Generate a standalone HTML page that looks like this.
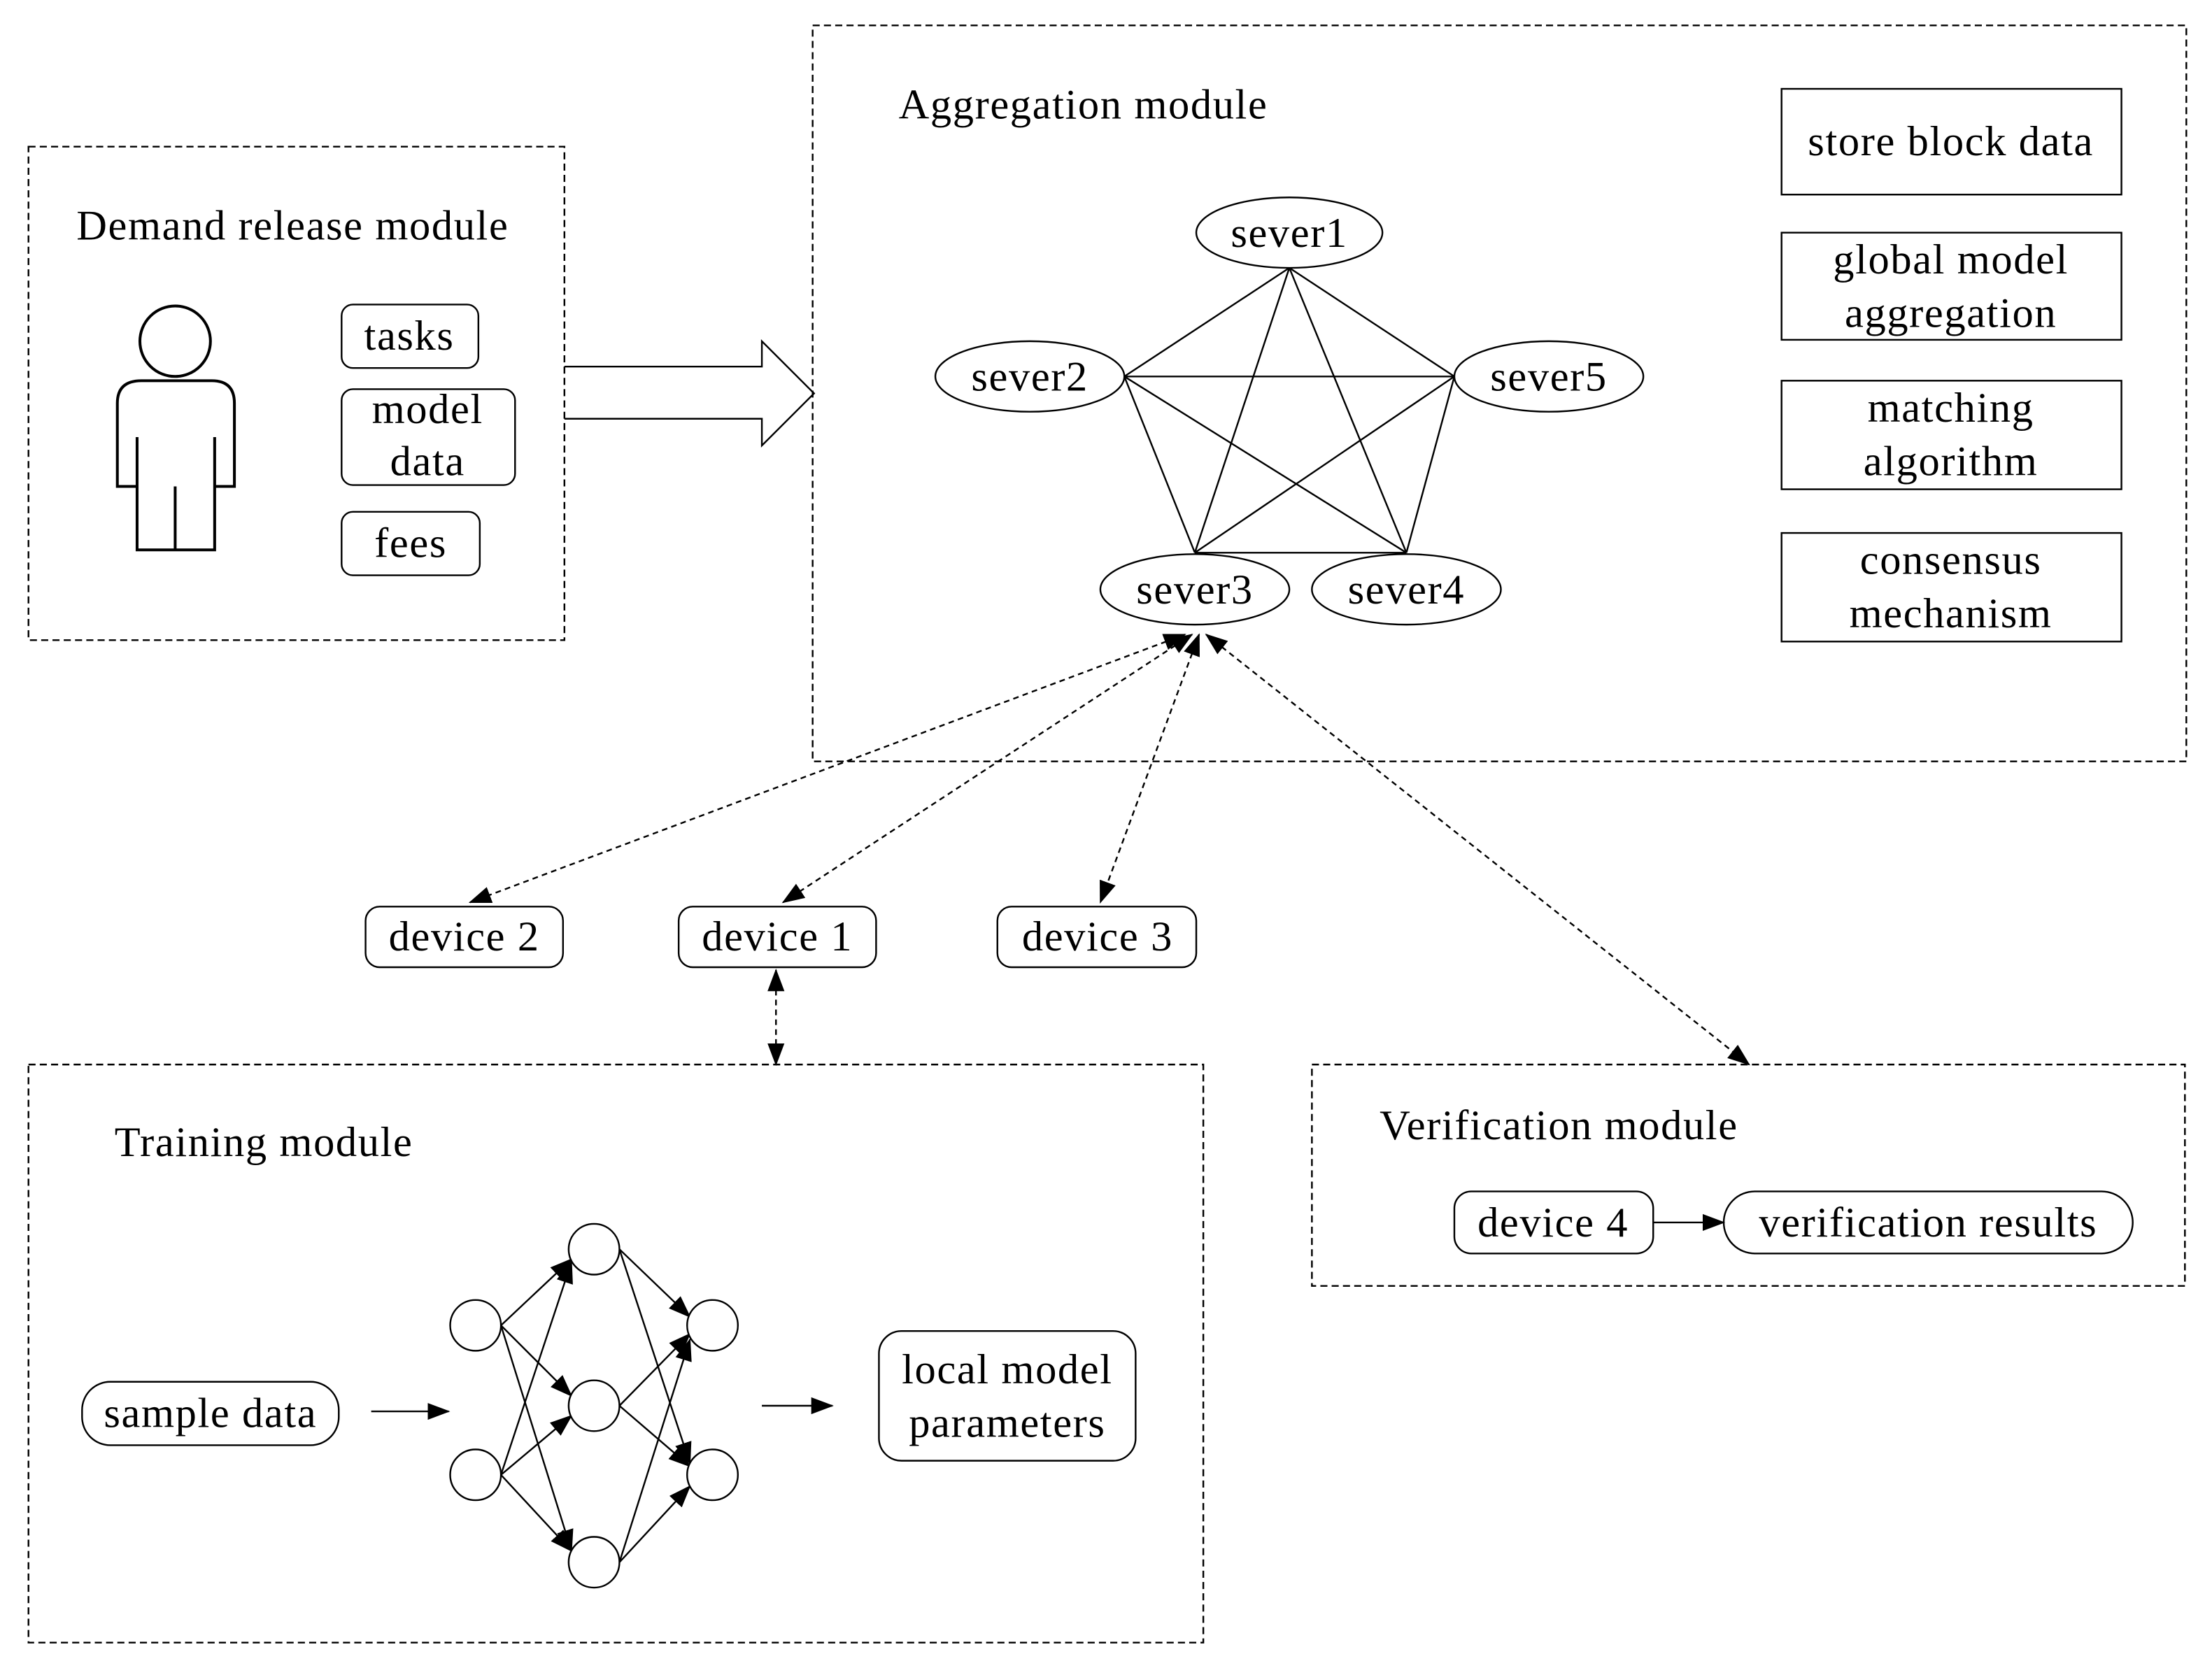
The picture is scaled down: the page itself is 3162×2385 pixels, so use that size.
<!DOCTYPE html>
<html><head><meta charset="utf-8">
<style>
html,body{margin:0;padding:0;background:#fff;}
svg{display:block;}
text{font-family:"Liberation Serif",serif;font-size:30px;letter-spacing:0.8px;fill:#000;}
</style></head>
<body>
<svg width="3162" height="2385" viewBox="0 0 1568 1183" xmlns="http://www.w3.org/2000/svg">
<defs>
<marker id="ah2" markerWidth="16" markerHeight="12" refX="15" refY="6" orient="auto-start-reverse" markerUnits="userSpaceOnUse">
<path d="M0,0 L16,6 L0,12 Z" fill="#000"/>
</marker>
</defs>
<g fill="none" stroke="#000" stroke-width="1.2">
<rect x="20" y="104" width="380" height="350" stroke-dasharray="5,3"/>
<rect x="576" y="18" width="974" height="522" stroke-dasharray="5,3"/>
<rect x="20" y="755" width="833" height="410" stroke-dasharray="5,3"/>
<rect x="930" y="755" width="619" height="157" stroke-dasharray="5,3"/>
<circle cx="124" cy="242" r="25" stroke-width="2"/>
<path d="M100,270 H150 Q166,270 166,286 V345 H152 V390 H97 V345 H83 V286 Q83,270 100,270 Z M97,310 V345 M152,310 V345 M124,345 V390" stroke-width="2"/>
<rect x="242" y="216" width="97" height="45" rx="8"/>
<rect x="242" y="276" width="123" height="68" rx="8"/>
<rect x="242" y="363" width="98" height="45" rx="8"/>
<path d="M400,260 H540 V242 L577,279 L540,316 V297 H400"/>
<rect x="1263" y="63" width="241" height="75"/>
<rect x="1263" y="165" width="241" height="76"/>
<rect x="1263" y="270" width="241" height="77"/>
<rect x="1263" y="378" width="241" height="77"/>
<path d="M914,190 L797,267 M914,190 L1031,267 M914,190 L847,392 M914,190 L997,392 M797,267 L1031,267 M797,267 L847,392 M797,267 L997,392 M1031,267 L847,392 M1031,267 L997,392 M847,392 L997,392"/>
<ellipse cx="914" cy="165" rx="66" ry="25" fill="#fff"/>
<ellipse cx="730" cy="267" rx="67" ry="25" fill="#fff"/>
<ellipse cx="1098" cy="267" rx="67" ry="25" fill="#fff"/>
<ellipse cx="847" cy="418" rx="67" ry="25" fill="#fff"/>
<ellipse cx="997" cy="418" rx="67" ry="25" fill="#fff"/>
<g stroke-dasharray="4,3">
<line x1="840" y1="450" x2="333" y2="640" marker-start="url(#ah2)" marker-end="url(#ah2)"/>
<line x1="845" y1="450" x2="555" y2="640" marker-start="url(#ah2)" marker-end="url(#ah2)"/>
<line x1="850" y1="450" x2="780" y2="640" marker-start="url(#ah2)" marker-end="url(#ah2)"/>
<line x1="855" y1="450" x2="1240" y2="755" marker-start="url(#ah2)" marker-end="url(#ah2)"/>
<line x1="550" y1="688" x2="550" y2="755" marker-start="url(#ah2)" marker-end="url(#ah2)"/>
</g>
<rect x="259" y="643" width="140" height="43" rx="10"/>
<rect x="481" y="643" width="140" height="43" rx="10"/>
<rect x="707" y="643" width="141" height="43" rx="10"/>
<rect x="58" y="980" width="182" height="45" rx="20"/>
<line x1="263" y1="1001" x2="318" y2="1001" marker-end="url(#ah2)"/>
<line x1="540" y1="997" x2="590" y2="997" marker-end="url(#ah2)"/>
<rect x="623" y="944" width="182" height="92" rx="16"/>
<g>
<line x1="355" y1="940" x2="405" y2="893" marker-end="url(#ah2)"/>
<line x1="355" y1="940" x2="405" y2="990" marker-end="url(#ah2)"/>
<line x1="355" y1="940" x2="405" y2="1100" marker-end="url(#ah2)"/>
<line x1="355" y1="1046" x2="405" y2="895" marker-end="url(#ah2)"/>
<line x1="355" y1="1046" x2="405" y2="1004" marker-end="url(#ah2)"/>
<line x1="355" y1="1046" x2="405" y2="1100" marker-end="url(#ah2)"/>
<line x1="439" y1="886" x2="489" y2="934" marker-end="url(#ah2)"/>
<line x1="439" y1="886" x2="489" y2="1038" marker-end="url(#ah2)"/>
<line x1="439" y1="997" x2="489" y2="946" marker-end="url(#ah2)"/>
<line x1="439" y1="997" x2="489" y2="1040" marker-end="url(#ah2)"/>
<line x1="439" y1="1108" x2="489" y2="950" marker-end="url(#ah2)"/>
<line x1="439" y1="1108" x2="489" y2="1054" marker-end="url(#ah2)"/>
</g>
<g fill="#fff">
<circle cx="337" cy="940" r="18"/><circle cx="337" cy="1046" r="18"/>
<circle cx="421" cy="886" r="18"/><circle cx="421" cy="997" r="18"/><circle cx="421" cy="1108" r="18"/>
<circle cx="505" cy="940" r="18"/><circle cx="505" cy="1046" r="18"/>
</g>
<rect x="1031" y="845" width="141" height="44" rx="12"/>
<line x1="1172" y1="867" x2="1222" y2="867" marker-end="url(#ah2)"/>
<rect x="1222" y="845" width="290" height="44" rx="22"/>
</g>
<text x="54" y="170">Demand release module</text>
<text x="290" y="248" text-anchor="middle">tasks</text>
<text x="303" y="300" text-anchor="middle">model</text>
<text x="303" y="337" text-anchor="middle">data</text>
<text x="291" y="395" text-anchor="middle">fees</text>
<text x="637" y="84">Aggregation module</text>
<text x="1383" y="110" text-anchor="middle">store block data</text>
<text x="1383" y="194" text-anchor="middle">global model</text>
<text x="1383" y="232" text-anchor="middle">aggregation</text>
<text x="1383" y="299" text-anchor="middle">matching</text>
<text x="1383" y="337" text-anchor="middle">algorithm</text>
<text x="1383" y="407" text-anchor="middle">consensus</text>
<text x="1383" y="445" text-anchor="middle">mechanism</text>
<text x="914" y="175" text-anchor="middle">sever1</text>
<text x="730" y="277" text-anchor="middle">sever2</text>
<text x="1098" y="277" text-anchor="middle">sever5</text>
<text x="847" y="428" text-anchor="middle">sever3</text>
<text x="997" y="428" text-anchor="middle">sever4</text>
<text x="329" y="674" text-anchor="middle">device 2</text>
<text x="551" y="674" text-anchor="middle">device 1</text>
<text x="778" y="674" text-anchor="middle">device 3</text>
<text x="81" y="820">Training module</text>
<text x="149" y="1012" text-anchor="middle">sample data</text>
<text x="714" y="981" text-anchor="middle">local model</text>
<text x="714" y="1019" text-anchor="middle">parameters</text>
<text x="978" y="808">Verification module</text>
<text x="1101" y="877" text-anchor="middle">device 4</text>
<text x="1367" y="877" text-anchor="middle">verification results</text>
</svg>
</body></html>
